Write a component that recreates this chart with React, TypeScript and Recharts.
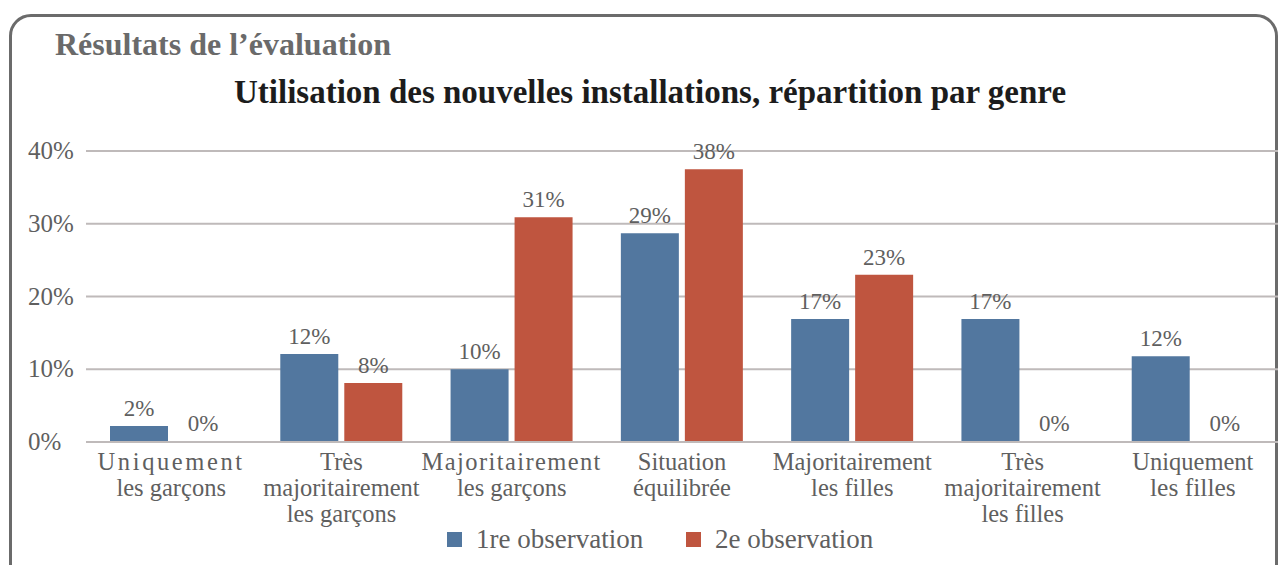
import React from 'react';
import { BarChart, Bar, XAxis, YAxis, CartesianGrid, LabelList, Rectangle } from 'recharts';

const categories = [
  'Uniquement\nles garçons',
  'Très\nmajoritairement\nles garçons',
  'Majoritairement\nles garçons',
  'Situation\néquilibrée',
  'Majoritairement\nles filles',
  'Très\nmajoritairement\nles filles',
  'Uniquement\nles filles',
];
const firstObs = [2.2, 12.1, 10, 28.7, 16.9, 16.9, 11.8];
const secondObs = [0, 8.1, 30.9, 37.5, 23, 0, 0];
const yTicks = [0, 10, 20, 30, 40];

const BLUE = '#52779f';
const RED = '#bf553f';
const TEXT = '#5f5f5f';
const GRID = '#bfbaba';
const FONT = '"Liberation Serif", "Times New Roman", serif';

const data = categories.map((name, i) => ({ name, first: firstObs[i], second: secondObs[i] }));

// first-line spacing, the original labels are stretched on some categories
const spacing = [2.6, 0, 1.4, 0, 0, 0, 0];

const CategoryTick = (props: any) => {
  const { x, y, payload, index } = props;
  const lines = String(payload.value).split('\n');
  return (
    <g transform={`translate(${x},${y})`}>
      {lines.map((line, i) => (
        <text
          key={i}
          x={0}
          y={20 + i * 26}
          textAnchor="middle"
          fill={TEXT}
          fontSize={index === 6 && i === 1 ? 25.5 : 24.5}
          fontFamily={FONT}
          letterSpacing={i === 0 ? spacing[index] : 0}
        >
          {line}
        </text>
      ))}
    </g>
  );
};

const PercentTick = (props: any) => {
  const { y, payload } = props;
  return (
    <text x={28} y={y + 8} textAnchor="start" fill={TEXT} fontSize={25} fontFamily={FONT}>
      {payload.value}%
    </text>
  );
};

const rawValue = (v: any) => (Array.isArray(v) ? v[1] - v[0] : Number(v));

const ValueLabel = (props: any) => {
  const { x, y, width, value } = props;
  return (
    <text x={x + width / 2} y={y - 10} textAnchor="middle" fill={TEXT} fontSize={23} fontFamily={FONT}>
      {Math.round(rawValue(value))}%
    </text>
  );
};

// zero values keep a 1px slot so that their label is drawn, but no visible rect
const BarShape = (props: any) => (rawValue(props.value) > 0 ? <Rectangle {...props} /> : <g />);

const legendItems = [
  { label: '1re observation', color: BLUE, left: 447 },
  { label: '2e observation', color: RED, left: 686 },
];

export default function App() {
  return (
    <div style={{ position: 'fixed', left: 0, top: 0, width: 1279, height: 565, overflow: 'hidden', background: '#fff' }}>
      <div
        style={{
          position: 'absolute',
          left: 9,
          top: 14,
          width: 1269,
          height: 620,
          boxSizing: 'border-box',
          border: '3px solid #6b6b6b',
          borderRadius: 22,
        }}
      />
      <div style={{ position: 'absolute', left: 55, top: 26, fontFamily: FONT, fontWeight: 'bold', fontSize: 32, color: '#6a6a6a' }}>
        Résultats de l’évaluation
      </div>
      <div style={{ position: 'absolute', left: 0, width: 1300, top: 74, textAlign: 'center', fontFamily: FONT, fontWeight: 'bold', fontSize: 33, color: '#1c1c1c' }}>
        Utilisation des nouvelles installations, répartition par genre
      </div>
      <div style={{ position: 'absolute', left: 0, top: 0 }}>
        <BarChart
          width={1279}
          height={565}
          data={data}
          margin={{ top: 151, right: 1, bottom: 0, left: 0 }}
          barSize={58}
          barGap={6}
        >
          <CartesianGrid vertical={false} stroke={GRID} strokeWidth={2} />
          <XAxis
            dataKey="name"
            axisLine={{ stroke: GRID, strokeWidth: 2 }}
            tickLine={false}
            tick={<CategoryTick />}
            interval={0}
            height={123}
          />
          <YAxis
            width={86}
            domain={[0, 40]}
            ticks={yTicks}
            axisLine={false}
            tickLine={false}
            tick={<PercentTick />}
          />
          <Bar dataKey="first" name="1re observation" fill={BLUE} minPointSize={1} shape={<BarShape />} isAnimationActive={false}>
            <LabelList dataKey="first" content={<ValueLabel />} />
          </Bar>
          <Bar dataKey="second" name="2e observation" fill={RED} minPointSize={1} shape={<BarShape />} isAnimationActive={false}>
            <LabelList dataKey="second" content={<ValueLabel />} />
          </Bar>
        </BarChart>
      </div>
      {legendItems.map((it) => (
        <div
          key={it.label}
          style={{ position: 'absolute', left: it.left, top: 524, display: 'flex', alignItems: 'center', fontFamily: FONT, fontSize: 27, color: TEXT }}
        >
          <span style={{ width: 15, height: 15, background: it.color, display: 'inline-block', marginRight: 14 }} />
          {it.label}
        </div>
      ))}
    </div>
  );
}
